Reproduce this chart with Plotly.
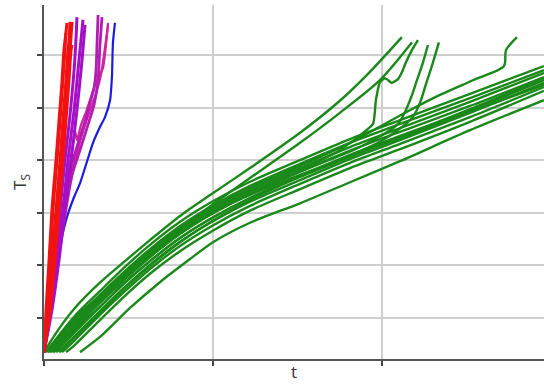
import plotly.graph_objects as go

# Surface temperature T_S against time t for each run, grouped by case.
# Each inner list is one run.

band_t = [18.3, 33.1, 47.9, 62.7, 80.5, 99.4, 121.9, 151.5, 181.1, 210.7, 252.1, 295.9]

green_t = [
    [0, 8.3, 18.3, 33.1, 47.9, 62.7, 80.5, 99.4, 121.9, 151.5, 175.1, 192.9, 211.8],
    [1.2, 10.7, 21.3, 33.1, 47.9, 62.7, 80.5, 99.4, 121.9, 151.5, 175.1, 198.8, 217.8],
    [4.7, 18.9, 33.1, 47.9, 62.7, 80.5, 99.4, 121.9, 151.5, 187.0, 209.5, 216.6, 220.7, 224.3, 227.2],
    [5.9, 20.1, 33.1, 47.9, 62.7, 80.5, 99.4, 121.9, 151.5, 198.8, 217.8, 222.5, 225.9, 230.2, 233.7],
    [2.4, 16.6, 33.1, 47.9, 62.7, 80.5, 99.4, 121.9, 151.5, 181.1, 214.8, 234.3, 253.8, 272.2, 273.4, 279.9],
    [1.2] + band_t,
    [2.4] + band_t,
    [3.6] + band_t,
    [5.3] + band_t,
    [7.1] + band_t,
    [7.7] + band_t,
    [8.9] + band_t,
    [9.5] + band_t,
    [10.7] + band_t,
    [13.0] + band_t,
    [21.3, 33.1, 50.9, 68.6, 86.4, 100.0, 121.9, 151.5, 181.1, 210.7, 252.1, 295.9],
]
green_ts = [
    [0.35, 0.77, 1.19, 1.67, 2.08, 2.48, 2.94, 3.36, 3.85, 4.52, 5.13, 5.68, 6.34],
    [0.35, 0.73, 1.10, 1.42, 1.86, 2.25, 2.69, 3.15, 3.66, 4.33, 4.90, 5.52, 6.24],
    [0.35, 0.83, 1.29, 1.74, 2.16, 2.60, 2.98, 3.36, 3.78, 4.25, 4.69, 5.14, 5.52, 5.86, 6.19],
    [0.35, 0.83, 1.21, 1.67, 2.08, 2.52, 2.90, 3.28, 3.70, 4.35, 4.80, 5.09, 5.43, 5.86, 6.24],
    [0.35, 0.89, 1.40, 1.86, 2.27, 2.71, 3.09, 3.47, 3.89, 4.33, 4.92, 5.24, 5.52, 5.79, 6.09, 6.34],
    [0.35, 1.04, 1.51, 1.97, 2.39, 2.83, 3.21, 3.59, 4.00, 4.40, 4.76, 5.26, 5.79],
    [0.35, 0.96, 1.44, 1.89, 2.31, 2.75, 3.13, 3.51, 3.93, 4.33, 4.69, 5.18, 5.71],
    [0.35, 0.89, 1.36, 1.82, 2.24, 2.67, 3.05, 3.43, 3.85, 4.25, 4.61, 5.11, 5.66],
    [0.35, 0.81, 1.29, 1.74, 2.16, 2.60, 2.98, 3.36, 3.78, 4.18, 4.54, 5.03, 5.58],
    [0.35, 0.73, 1.21, 1.67, 2.08, 2.52, 2.90, 3.28, 3.70, 4.10, 4.46, 4.95, 5.52],
    [0.35, 0.85, 1.34, 1.78, 2.18, 2.62, 3.00, 3.34, 3.72, 4.08, 4.42, 4.92, 5.43],
    [0.35, 0.66, 1.13, 1.59, 2.01, 2.45, 2.83, 3.21, 3.62, 4.02, 4.38, 4.90, 5.47],
    [0.35, 0.64, 1.09, 1.57, 1.99, 2.44, 2.84, 3.24, 3.68, 4.06, 4.44, 4.97, 5.56],
    [0.35, 0.58, 1.06, 1.51, 1.93, 2.37, 2.75, 3.13, 3.55, 3.95, 4.31, 4.82, 5.39],
    [0.35, 0.49, 0.96, 1.42, 1.84, 2.27, 2.65, 3.04, 3.45, 3.85, 4.21, 4.73, 5.32],
    [0.35, 0.64, 1.19, 1.68, 2.12, 2.44, 2.81, 3.18, 3.58, 3.98, 4.57, 5.14],
]

# run with an irregular late rise
green_jump_t = [3.6, 18.3, 33.1, 47.9, 62.7, 80.5, 99.4, 121.9, 151.5, 175.1, 194.7, 196.4,
                198.8, 201.8, 205.9, 209.5, 211.8, 214.2, 217.2, 221.3]
green_jump_ts = [0.35, 0.85, 1.32, 1.78, 2.20, 2.64, 3.02, 3.40, 3.81, 4.19, 4.69, 5.14,
                 5.48, 5.56, 5.47, 5.54, 5.67, 5.86, 6.06, 6.28]

red_t = [
    [0, 1.8, 3.6, 5.3, 7.7, 9.5, 11.2, 12.4, 13.0, 13.6],
    [0, 2.4, 4.7, 7.1, 9.5, 11.2, 13.0, 14.2, 14.8, 15.4],
    [0, 3.0, 5.3, 8.3, 10.7, 12.4, 14.2, 15.4, 16.6],
    [0, 1.2, 3.0, 4.7, 7.1, 8.9, 10.7, 11.8, 13.0],
    [0, 3.6, 6.5, 8.9, 11.2, 13.0, 14.8, 16.0, 16.6],
]
red_ts = [
    [0.35, 1.15, 2.10, 3.05, 4.00, 4.76, 5.52, 6.09, 6.42, 6.61],
    [0.35, 1.15, 2.10, 3.05, 4.00, 4.76, 5.52, 6.09, 6.28, 6.63],
    [0.35, 1.15, 2.10, 3.05, 4.00, 4.76, 5.52, 6.09, 6.63],
    [0.35, 1.15, 2.10, 3.05, 4.00, 4.76, 5.52, 6.09, 6.42],
    [0.35, 1.15, 2.10, 3.05, 4.00, 4.76, 5.52, 6.09, 6.19],
]

violet_t = [
    [0, 3.6, 6.5, 9.5, 12.4, 15.4, 17.8, 18.9, 19.5],
    [0, 4.1, 7.7, 11.2, 14.2, 17.8, 20.7, 22.5, 23.1],
    [0, 4.7, 8.9, 12.4, 16.0, 19.5, 22.5, 24.3],
]
violet_ts = [
    [0.35, 1.15, 2.10, 3.05, 4.00, 4.86, 5.71, 6.28, 6.72],
    [0.35, 1.15, 2.10, 3.05, 4.00, 4.95, 5.90, 6.48, 6.67],
    [0.35, 1.15, 2.10, 3.05, 4.00, 4.95, 5.90, 6.57],
]

magenta_t = [
    [0, 1.8, 4.7, 7.7, 10.7, 13.6, 17.2, 21.3, 24.9, 27.2, 29.6, 30.8, 31.4, 32.0],
    [0, 2.4, 5.9, 9.5, 13.0, 16.6, 21.3, 26.0, 29.6, 32.0, 33.1, 34.3],
]
magenta_ts = [
    [0.35, 1.02, 1.63, 2.10, 2.77, 3.38, 4.00, 4.44, 4.80, 5.09, 5.37, 5.71, 6.23, 6.76],
    [0.35, 1.02, 1.72, 2.39, 3.15, 3.72, 4.19, 4.67, 5.05, 5.52, 6.19, 6.72],
]

pink_t = [
    [0, 3.6, 7.7, 11.2, 14.8, 17.2, 18.3, 19.5, 21.9, 24.9, 27.2, 30.2, 32.5, 34.9, 36.7, 37.9],
    [0, 4.7, 9.5, 13.6, 17.8, 22.5, 27.2, 31.4, 33.7, 35.5, 37.9],
]
pink_ts = [
    [0.35, 1.34, 2.29, 3.15, 3.81, 4.29, 4.57, 4.38, 4.67, 4.92, 5.14, 5.43, 5.60, 5.75, 6.19, 6.61],
    [0.35, 1.34, 2.29, 3.15, 3.91, 4.48, 4.95, 5.33, 5.62, 6.00, 6.57],
]

blue_t = [0, 1.8, 3.6, 5.3, 9.5, 13.6, 17.8, 21.3, 25.4, 29.0, 33.1, 36.1, 39.1, 40.2, 40.8, 42.0]
blue_ts = [0.35, 0.87, 1.34, 1.78, 2.39, 2.92, 3.30, 3.56, 3.97, 4.33, 4.63, 4.82, 5.14, 5.58, 6.23, 6.61]

t_ticks = [0, 100, 200]
ts_ticks = [1, 2, 3, 4, 5, 6]

GREEN = "#1a891a"
RED = "#f21212"
VIOLET = "#a310c6"
MAGENTA = "#b21cb2"
PINK = "#d0259e"
BLUE = "#1c1ce0"

fig = go.Figure()


def add_run(t, ts, color, width=2.0, smoothing=0.8):
    fig.add_trace(go.Scatter(
        x=t, y=ts, mode="lines",
        line=dict(color=color, width=width, shape="spline", smoothing=smoothing),
        hoverinfo="skip", showlegend=False,
    ))


for t, ts in zip(green_t, green_ts):
    add_run(t, ts, GREEN, width=2.4)
add_run(green_jump_t, green_jump_ts, GREEN, width=2.4, smoothing=0.4)

add_run(blue_t, blue_ts, BLUE, width=2.2, smoothing=0.6)
for t, ts in zip(pink_t, pink_ts):
    add_run(t, ts, PINK, width=2.2, smoothing=0.5)
for t, ts in zip(magenta_t, magenta_ts):
    add_run(t, ts, MAGENTA, width=2.8, smoothing=0.6)
for t, ts in zip(violet_t, violet_ts):
    add_run(t, ts, VIOLET, width=3.0)
for t, ts in zip(red_t, red_ts):
    add_run(t, ts, RED, width=3.0)

axis_common = dict(
    showticklabels=False,
    ticks="outside",
    ticklen=5,
    tickwidth=1.5,
    tickcolor="#444444",
    showgrid=True,
    gridcolor="#cfcfcf",
    gridwidth=1.5,
    showline=True,
    linecolor="#555555",
    linewidth=1.5,
    zeroline=False,
    automargin=False,
)

title_font = dict(family="Open Sans, DejaVu Sans, sans-serif", size=17, color="#333333")

fig.update_xaxes(
    range=[0, 295.9], tickvals=t_ticks,
    title=dict(text="t", font=title_font, standoff=1),
    **axis_common,
)
fig.update_yaxes(
    range=[0.22, 6.95], tickvals=ts_ticks,
    title=dict(text="T<sub>S</sub>", font=title_font, standoff=6),
    **axis_common,
)

fig.update_layout(
    width=544, height=385,
    margin=dict(l=44, r=0, t=5, b=26),
    paper_bgcolor="white",
    plot_bgcolor="white",
    font=dict(family="Open Sans, DejaVu Sans, sans-serif", size=17, color="#333333"),
)

fig.write_html("out.html")
